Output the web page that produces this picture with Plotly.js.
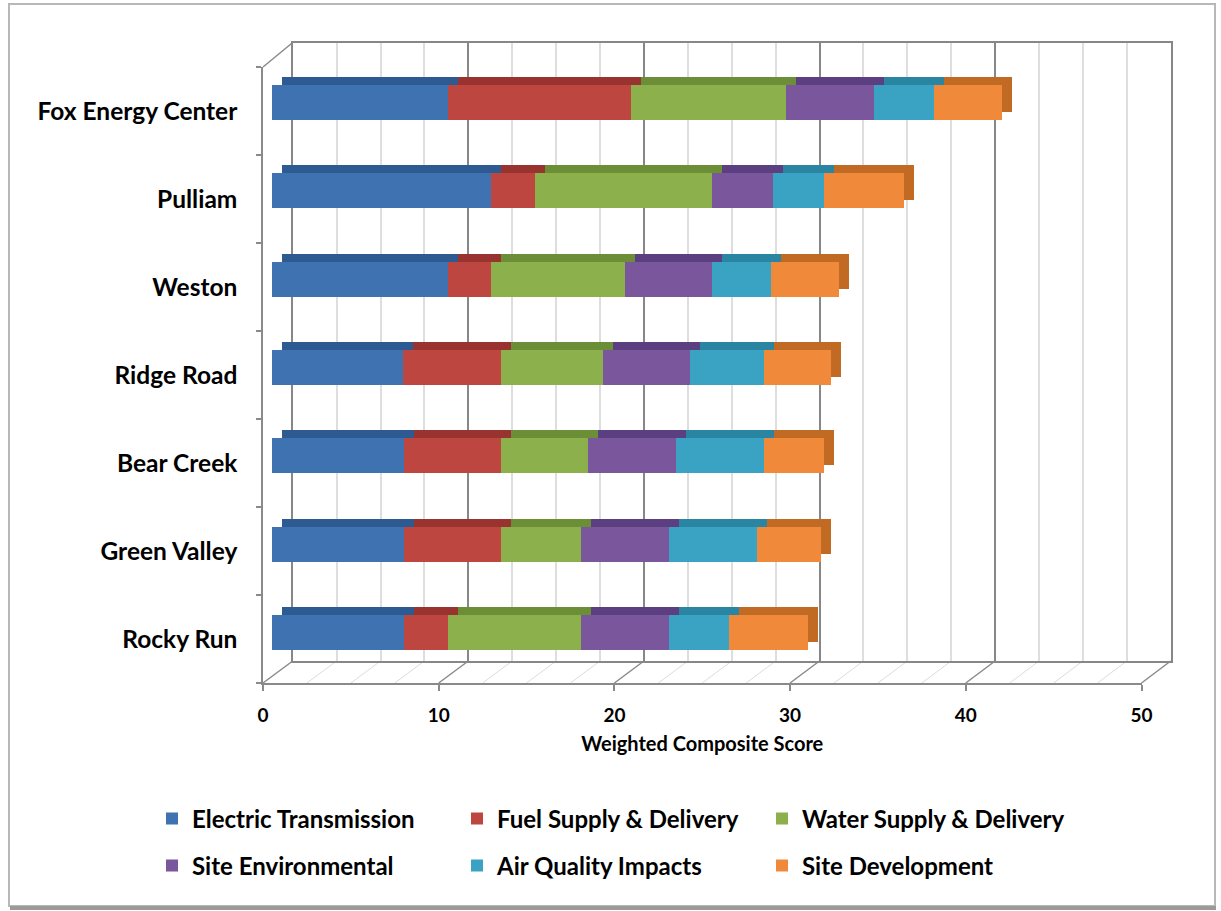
<!DOCTYPE html>
<html>
<head>
<meta charset="utf-8">
<script src="https://cdn.plot.ly/plotly-3.0.1.min.js"></script>
<style>
  html, body { margin: 0; padding: 0; background: #fff; }
  #chart { width: 1221px; height: 911px; }
</style>
</head>
<body>
<div id="chart"></div>
<script>
// ---- data ----
const sites = ["Rocky Run", "Green Valley", "Bear Creek", "Ridge Road", "Weston", "Pulliam", "Fox Energy Center"];
const seriesNames = ["Electric Transmission", "Fuel Supply & Delivery", "Water Supply & Delivery",
                     "Site Environmental", "Air Quality Impacts", "Site Development"];
const electricTransmission = [7.5, 7.5, 7.5, 7.45, 10.0, 12.45, 10.0];
const fuelSupply           = [2.5, 5.5, 5.5, 5.55, 2.45, 2.5, 10.4];
const waterSupply          = [7.6, 4.6, 5.0, 5.8, 7.65, 10.05, 8.85];
const siteEnvironmental    = [5.0, 5.0, 5.0, 5.0, 4.9, 3.5, 5.0];
const airQuality           = [3.4, 5.0, 5.0, 4.2, 3.4, 2.9, 3.4];
const siteDevelopment      = [4.5, 3.6, 3.4, 3.8, 3.85, 4.55, 3.85];
const xTicks = [0, 10, 20, 30, 40, 50];

const seriesValues = [electricTransmission, fuelSupply, waterSupply, siteEnvironmental, airQuality, siteDevelopment];
const colors     = ["#3F72B0", "#BE4640", "#8CB04C", "#7A569C", "#3AA3C4", "#F08A3A"];
const darkColors = ["#2E5A92", "#983330", "#6C8E37", "#5C3F80", "#2A85A2", "#C06A24"];

const W = 1221, H = 911;
const px = v => v / W;
const py = v => 1 - v / H;

// domains (3D-like offsets of the Excel chart)
const backX = [px(292.7), px(1170.7)], backY = [py(661), py(42.5)];
const frontX = [px(263), px(1141.5)], frontY = [py(683), py(67)];
const barX = [px(272), px(1151)], barY = [py(676.7), py(58.3)];
const depthX = 10, depthY = 8; // bar depth offset (px) for top / end faces
const barBackX = [px(272 + depthX), px(1151 + depthX)], barBackY = [py(676.7 - depthY), py(58.3 - depthY)];

const font = "Lato, 'Open Sans', sans-serif";
const traces = [];

// back wall subplot (x/y) - placeholder trace
traces.push({type: "scatter", x: [0], y: [0], mode: "markers", marker: {opacity: 0},
  xaxis: "x", yaxis: "y", hoverinfo: "skip", showlegend: false});
// side wall / floor subplot (x2/y2)
traces.push({type: "scatter", x: sites.map(() => 0), y: sites, mode: "markers", marker: {opacity: 0},
  xaxis: "x2", yaxis: "y2", hoverinfo: "skip", showlegend: false});

// depth faces of the bars (drawn behind, offset up/right)
seriesNames.forEach((name, i) => {
  traces.push({
    type: "bar", orientation: "h", name: name,
    y: sites, x: seriesValues[i],
    xaxis: "x3", yaxis: "y3",
    marker: {color: darkColors[i], line: {width: 0}},
    showlegend: false, hoverinfo: "skip"
  });
});
// front faces
seriesNames.forEach((name, i) => {
  traces.push({
    type: "bar", orientation: "h", name: name,
    y: sites, x: seriesValues[i],
    xaxis: "x4", yaxis: "y4",
    marker: {color: colors[i], line: {width: 0}},
    legend: i < 3 ? "legend" : "legend2",
    hoverinfo: "x+name"
  });
});

// floor diagonals and top-left edge (layout decoration)
const shapes = [];
for (let v = 0; v <= 50; v += 2.5) {
  const major = v % 10 === 0;
  const xf = frontX[0] + v / 50 * (frontX[1] - frontX[0]);
  const xb = backX[0] + v / 50 * (backX[1] - backX[0]);
  shapes.push({type: "line", xref: "paper", yref: "paper", x0: xf, y0: frontY[0], x1: xb, y1: backY[0],
    line: {color: major ? "#8a8a8a" : "#dcdcdc", width: major ? 1.5 : 1}, layer: "below"});
}
shapes.push({type: "line", xref: "paper", yref: "paper", x0: frontX[0], y0: frontY[1], x1: backX[0], y1: backY[1],
  line: {color: "#8a8a8a", width: 1.5}, layer: "below"});
// outer chart border
shapes.push({type: "rect", xref: "paper", yref: "paper", x0: px(9), y0: py(906), x1: px(1215), y1: py(4),
  line: {color: "#b8b8b8", width: 2}, layer: "below"});
shapes.push({type: "line", xref: "paper", yref: "paper", x0: px(10), y0: py(908), x1: px(1216), y1: py(908),
  line: {color: "#9a9a9a", width: 4}, layer: "below"});

const legendBase = {orientation: "h", xanchor: "left", yanchor: "middle",
  entrywidth: 260, entrywidthmode: "pixels", traceorder: "normal",
  font: {family: font, size: 24, color: "#000", weight: "bold"}, bgcolor: "rgba(0,0,0,0)"};

const layout = {
  width: W, height: H,
  margin: {l: 0, r: 0, t: 0, b: 0},
  paper_bgcolor: "#ffffff", plot_bgcolor: "rgba(0,0,0,0)",
  barmode: "stack", bargap: 0.604,
  font: {family: font, color: "#000"},
  showlegend: true,
  xaxis: {domain: backX, range: [0, 50], anchor: "y", dtick: 10, tick0: 0,
    showgrid: true, gridcolor: "#878787", gridwidth: 1.5,
    minor: {dtick: 2.5, showgrid: true, gridcolor: "#dedede", gridwidth: 1.5},
    showline: true, mirror: true, linecolor: "#878787", linewidth: 1.5,
    showticklabels: false, ticks: "", zeroline: false, fixedrange: true},
  yaxis: {domain: backY, range: [0, 1], anchor: "x", showgrid: false, zeroline: false,
    showline: true, mirror: true, linecolor: "#878787", linewidth: 1.5,
    showticklabels: false, ticks: "", fixedrange: true},
  xaxis2: {domain: frontX, range: [0, 50], anchor: "y2", tickvals: xTicks, ticktext: xTicks.map(String),
    showgrid: false, zeroline: false, showline: true, linecolor: "#8a8a8a", linewidth: 1.5,
    ticks: "outside", ticklen: 6, tickcolor: "#8a8a8a", tickwidth: 1.5, ticklabelstandoff: 8,
    tickfont: {family: font, size: 19, color: "#000", weight: "bold"},
    title: {text: "Weighted Composite Score", standoff: 12,
      font: {family: font, size: 20, color: "#000", weight: "bold"}},
    fixedrange: true},
  yaxis2: {domain: frontY, type: "category", categoryorder: "array", categoryarray: sites,
    range: [-0.5, sites.length - 0.5], anchor: "x2",
    showgrid: false, zeroline: false, showline: true, linecolor: "#8a8a8a", linewidth: 1.5,
    ticks: "outside", tickson: "boundaries", ticklen: 5, tickcolor: "#8a8a8a", tickwidth: 1.5,
    ticklabelstandoff: 19,
    tickfont: {family: font, size: 24.5, color: "#000", weight: "bold"}, fixedrange: true},
  xaxis3: {domain: barBackX, range: [0, 50], anchor: "y3", visible: false, fixedrange: true},
  yaxis3: {domain: barBackY, type: "category", categoryorder: "array", categoryarray: sites,
    range: [-0.5, sites.length - 0.5], anchor: "x3", visible: false, fixedrange: true},
  xaxis4: {domain: barX, range: [0, 50], anchor: "y4", visible: false, fixedrange: true},
  yaxis4: {domain: barY, type: "category", categoryorder: "array", categoryarray: sites,
    range: [-0.5, sites.length - 0.5], anchor: "x4", visible: false, fixedrange: true},
  legend: Object.assign({}, legendBase, {x: px(152), y: py(819)}),
  legend2: Object.assign({}, legendBase, {x: px(152), y: py(866)}),
  shapes: shapes
};

Plotly.newPlot("chart", traces, layout, {displayModeBar: false, responsive: false});
</script>
</body>
</html>
